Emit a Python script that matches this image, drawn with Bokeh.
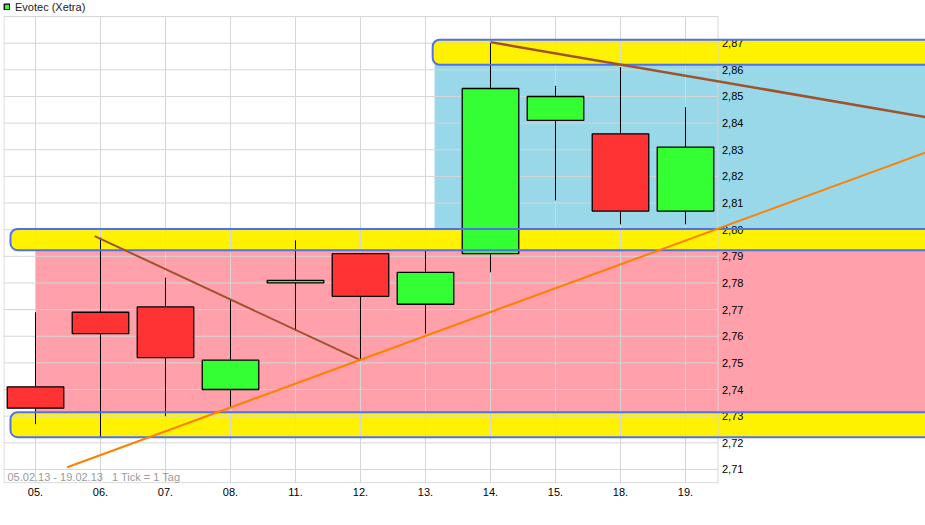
from bokeh.plotting import figure
from bokeh.models import Range1d, FixedTicker, ColumnDataSource, Legend, LegendItem, Label
from bokeh.core.properties import value
from bokeh.embed import file_html
from bokeh.resources import INLINE

# ---- data ----
days = ["05.", "06.", "07.", "08.", "11.", "12.", "13.", "14.", "15.", "18.", "19."]
open_ = [2.741, 2.769, 2.771, 2.740, 2.780, 2.791, 2.772, 2.791, 2.841, 2.836, 2.807]
high = [2.769, 2.797, 2.782, 2.774, 2.796, 2.791, 2.792, 2.870, 2.854, 2.861, 2.846]
low = [2.727, 2.722, 2.730, 2.733, 2.762, 2.751, 2.761, 2.784, 2.811, 2.802, 2.802]
close = [2.733, 2.761, 2.752, 2.751, 2.781, 2.775, 2.784, 2.853, 2.850, 2.807, 2.831]

price_ticks = [2.71, 2.72, 2.73, 2.74, 2.75, 2.76, 2.77, 2.78, 2.79,
               2.80, 2.81, 2.82, 2.83, 2.84, 2.85, 2.86, 2.87]
price_labels = ["2,71", "2,72", "2,73", "2,74", "2,75", "2,76", "2,77", "2,78", "2,79",
                "2,80", "2,81", "2,82", "2,83", "2,84", "2,85", "2,86", "2,87"]
grid_top = 2.88
grid_bottom = 2.7050

# shaded zones (blue above, pink below)
zone_left = [6.14, 0.0]
zone_bottom = [2.7965, 2.7265]
zone_top = [2.8650, 2.7965]
zone_colors = ["#98D8E8", "#FFA0AA"]

# yellow support / resistance bands
band_left = [6.11, -0.385, -0.385]
band_bottom = [2.8619, 2.7923, 2.7221]
band_top = [2.8713, 2.8003, 2.7315]

# trend lines
down1_x = [0.91, 5.0]
down1_y = [2.7976, 2.7510]
down2_x = [7.0, 14.0]
down2_y = [2.8704, 2.8410]
up_x = [0.488, 14.0]
up_y = [2.7108, 2.8317]

footnote = "05.02.13 - 19.02.13\u00a0\u00a0\u00a01 Tick = 1 Tag"
series_name = "Evotec (Xetra)"

# ---- figure ----
FONT = "Liberation Sans"
x_start = -0.4923
x_end = x_start + 922 / 65.0
y_end = 2.87 + 42.7 / 2664.0
y_start = y_end - 483 / 2664.0

p = figure(width=925, height=517, x_range=Range1d(x_start, x_end),
           y_range=Range1d(y_start, y_end), output_backend="svg",
           toolbar_location=None, y_axis_location=None,
           min_border_left=3, min_border_right=0, min_border_top=0,
           min_border_bottom=34)
p.grid.visible = False
p.outline_line_color = None
p.background_fill_color = "white"
p.border_fill_color = "white"

ax = p.xaxis[0]
ax.ticker = FixedTicker(ticks=list(range(len(days))))
ax.major_label_overrides = {i: d for i, d in enumerate(days)}
ax.axis_line_color = None
ax.major_tick_line_color = None
ax.minor_tick_line_color = None
ax.major_tick_out = 0
ax.major_tick_in = 0
ax.major_label_standoff = 4
ax.major_label_text_font = FONT
ax.major_label_text_font_size = "11px"
ax.major_label_text_color = "black"

right_far = 15.0
# zones
p.quad(left=zone_left, right=[right_far] * len(zone_left), bottom=zone_bottom,
       top=zone_top, fill_color=zone_colors, line_color=None)

# band fills
p.quad(left=band_left, right=[right_far] * len(band_left), bottom=band_bottom,
       top=band_top, fill_color="#FFF200", line_color=None, border_radius=7)

# grid (restricted to the chart area)
n = len(days)
vx = list(range(n)) + [x_start + 0.008, n - 0.5]
p.segment(x0=vx, x1=vx, y0=[grid_bottom] * len(vx), y1=[grid_top] * len(vx),
          line_color="#D6D6D6", line_width=1)
hy = price_ticks + [grid_top, grid_bottom]
p.segment(x0=[x_start] * len(hy), x1=[n - 0.5] * len(hy), y0=hy, y1=hy,
          line_color="#D6D6D6", line_width=1)

# price labels
p.text(x=[n - 0.5] * len(price_ticks), y=price_ticks, text=price_labels,
       x_offset=4, text_font=value(FONT), text_font_size="11px",
       text_baseline="middle", text_align="left", text_color="black")

# candles
idx = list(range(n))
p.segment(x0=idx, x1=idx, y0=low, y1=high, line_color="black", line_width=1)
up_i = [i for i in idx if close[i] >= open_[i]]
dn_i = [i for i in idx if close[i] < open_[i]]
src_up = ColumnDataSource(dict(x=up_i, top=[close[i] for i in up_i],
                               bottom=[open_[i] for i in up_i]))
src_dn = ColumnDataSource(dict(x=dn_i, top=[open_[i] for i in dn_i],
                               bottom=[close[i] for i in dn_i]))
r_up = p.vbar(x="x", top="top", bottom="bottom", width=0.87, source=src_up,
              fill_color="#33FF33", line_color="black", line_width=1.3)
p.vbar(x="x", top="top", bottom="bottom", width=0.87, source=src_dn,
       fill_color="#FF3333", line_color="black", line_width=1.3)

# band outlines
p.quad(left=band_left, right=[right_far] * len(band_left), bottom=band_bottom,
       top=band_top, fill_color=None, line_color="#5070F0", line_width=2,
       border_radius=7)

# trend lines
p.line(down1_x, down1_y, line_color="#A0522D", line_width=2)
p.line(down2_x, down2_y, line_color="#A0522D", line_width=2.5)
p.line(up_x, up_y, line_color="#FF7F00", line_width=2)

# footnote
p.add_layout(Label(x=x_start, y=2.70698, x_offset=4, text=footnote,
                   text_font=FONT, text_font_size="11px", text_color="#9A9A9A",
                   text_baseline="middle"))

legend = Legend(items=[LegendItem(label=series_name, renderers=[r_up])],
                location="top_left", margin=0, padding=0, glyph_width=7,
                glyph_height=7, label_height=13, label_standoff=5,
                label_text_font=FONT, label_text_font_size="11px",
                label_text_color="#222222", background_fill_alpha=0,
                border_line_alpha=0)
p.add_layout(legend)

open("out.html", "w").write(file_html(p, INLINE))
